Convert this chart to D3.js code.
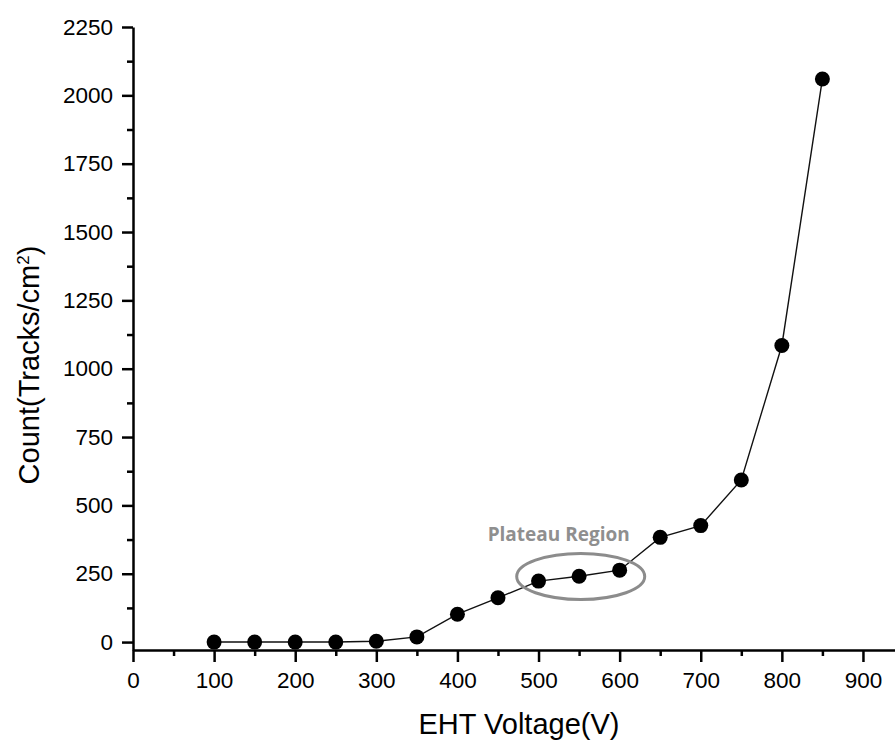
<!DOCTYPE html>
<html>
<head>
<meta charset="utf-8">
<script src="https://cdn.jsdelivr.net/npm/d3@7"></script>
<style>
  body { margin: 0; background: #fff; }
  svg { display: block; }
  text { font-family: "Liberation Sans", Arial, sans-serif; }
</style>
</head>
<body>
<div id="chart"></div>
<script>
'use strict'

// EHT voltage steps and measured counts
let voltage = [100, 150, 200, 250, 300, 350, 400, 450, 500, 550, 600, 650, 700, 750, 800, 850];
let count   = [0, 0, 0, 0, 3, 19, 102, 162, 223, 241, 263, 383, 426, 593, 1085, 2060];

let xMajor = [0, 100, 200, 300, 400, 500, 600, 700, 800, 900];
let xMinor = [50, 150, 250, 350, 450, 550, 650, 750, 850];
let yMajor = [0, 250, 500, 750, 1000, 1250, 1500, 1750, 2000, 2250];
let yMinor = [125, 375, 625, 875, 1125, 1375, 1625, 1875, 2125];

// plateau annotation (centre in data units)
let plateau = {label: "Plateau Region", v: 552, c: 240};

var width = 895, height = 740;

var svg = d3.select("#chart").append("svg")
    .attr("width", width)
    .attr("height", height);

var x = d3.scaleLinear().domain([0, 940]).range([133, 895.4]);
var y = d3.scaleLinear().domain([-29, 2250]).range([650, 27]);
var fmt = d3.format("d");

// ---------- axes ----------
svg.append("g")
    .attr("transform", "translate(0," + y(-29) + ")")
    .call(d3.axisBottom(x).tickValues(xMajor).tickFormat(fmt).tickSize(12).tickSizeOuter(0).tickPadding(10));
svg.append("g")
    .attr("transform", "translate(0," + y(-29) + ")")
    .call(d3.axisBottom(x).tickValues(xMinor).tickSize(6).tickFormat(""))
    .select(".domain").remove();

svg.append("g")
    .attr("transform", "translate(" + x(0) + ",0)")
    .call(d3.axisLeft(y).tickValues(yMajor).tickFormat(fmt).tickSize(11).tickSizeOuter(0).tickPadding(9));
svg.append("g")
    .attr("transform", "translate(" + x(0) + ",0)")
    .call(d3.axisLeft(y).tickValues(yMinor).tickSize(6).tickFormat(""))
    .select(".domain").remove();

svg.selectAll(".domain, .tick line")
    .attr("stroke", "#000")
    .attr("stroke-width", 2.5);
svg.selectAll(".tick text")
    .attr("fill", "#000")
    .style("font-size", "22.5px")
    .style("font-family", "'Liberation Sans', Arial, sans-serif");

// axis titles
svg.append("text")
    .attr("x", 519)
    .attr("y", 734)
    .attr("text-anchor", "middle")
    .style("font-size", "29px")
    .text("EHT Voltage(V)");

var yt = svg.append("text")
    .attr("transform", "translate(39,365) rotate(-90)")
    .attr("text-anchor", "middle")
    .style("font-size", "29px");
yt.append("tspan").text("Count(Tracks/cm");
yt.append("tspan").attr("dy", "-0.6em").style("font-size", "17px").text("2");
yt.append("tspan").attr("dy", "0.35em").text(")");

// ---------- data ----------
var pts = voltage.map(function(v, i) { return {v: v, c: count[i]}; });

svg.append("path")
    .datum(pts)
    .attr("fill", "none")
    .attr("stroke", "#111")
    .attr("stroke-width", 1.4)
    .attr("d", d3.line()
        .x(function(d) { return x(d.v); })
        .y(function(d) { return y(d.c); }));

svg.selectAll(".dot")
    .data(pts)
    .enter().append("circle")
    .attr("class", "dot")
    .attr("cx", function(d) { return x(d.v); })
    .attr("cy", function(d) { return y(d.c); })
    .attr("r", 7.5)
    .attr("fill", "#000");

// ---------- plateau annotation ----------
var pcx = x(plateau.v), pcy = y(plateau.c);
svg.append("ellipse")
    .attr("cx", pcx)
    .attr("cy", pcy)
    .attr("rx", 64)
    .attr("ry", 23)
    .attr("fill", "none")
    .attr("stroke", "#8c8c8c")
    .attr("stroke-width", 3);

svg.append("text")
    .attr("x", pcx - 22)
    .attr("y", pcy - 35)
    .attr("text-anchor", "middle")
    .attr("fill", "#8f8f8f")
    .style("font-family", "'Open Sans', sans-serif")
    .style("font-weight", "bold")
    .style("font-size", "19px")
    .text(plateau.label);
</script>
</body>
</html>
